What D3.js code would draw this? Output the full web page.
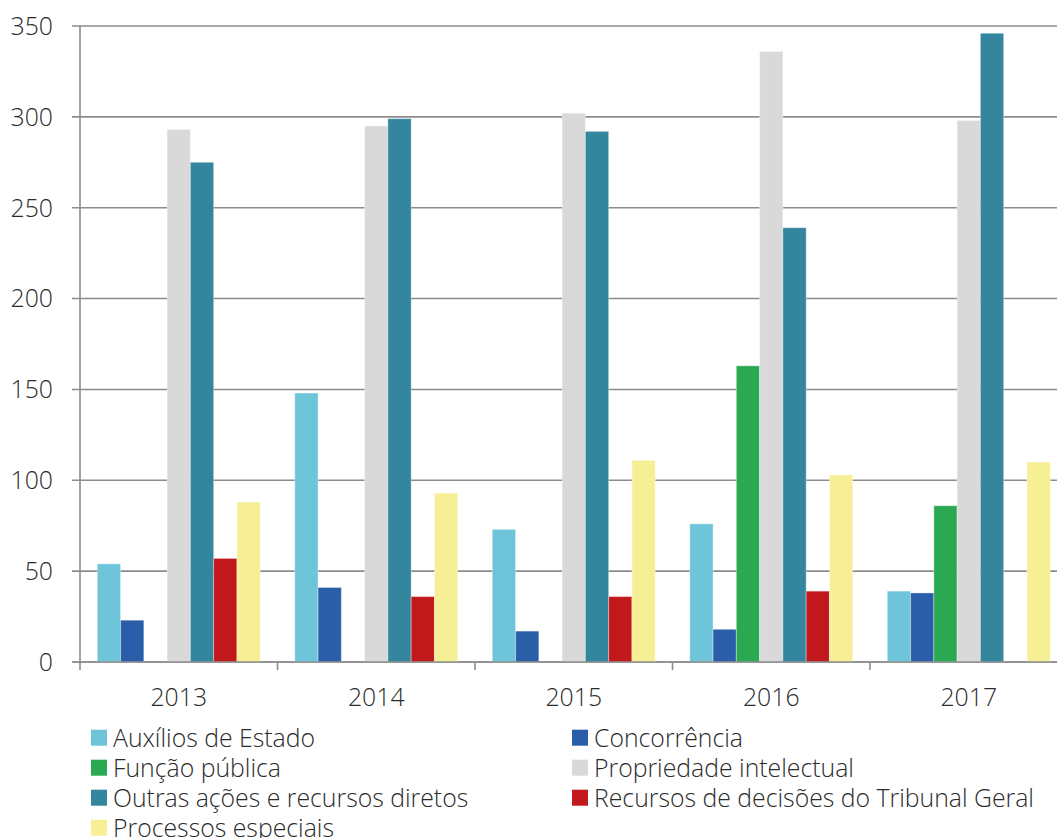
<!DOCTYPE html>
<html>
<head>
<meta charset="utf-8">
<script src="https://cdn.jsdelivr.net/npm/d3@7"></script>
<style>
  html, body { margin: 0; padding: 0; background: #fff; overflow: hidden; }
  text { font-family: "Open Sans", sans-serif; font-weight: 300; fill: #2b2b2b; }
</style>
</head>
<body>
<div class="chart"></div>
<script>
var years = ["2013", "2014", "2015", "2016", "2017"];
var seriesNames = [
  "Auxílios de Estado",
  "Concorrência",
  "Função pública",
  "Propriedade intelectual",
  "Outras ações e recursos diretos",
  "Recursos de decisões do Tribunal Geral",
  "Processos especiais"
];
var seriesColors = ["#6ec5d9", "#2b5ea8", "#2aa852", "#d9d9d9", "#33869e", "#c0181b", "#f7ef96"];

// one array per series, values per year 2013..2017
var auxilios    = [54, 148, 73, 76, 39];
var concorrencia = [23, 41, 17, 18, 38];
var funcaoPublica = [0, 0, 0, 163, 86];
var propriedade = [293, 295, 302, 336, 298];
var outras      = [275, 299, 292, 239, 346];
var recursos    = [57, 36, 36, 39, 0];
var especiais   = [88, 93, 111, 103, 110];

var yTicks = [0, 50, 100, 150, 200, 250, 300, 350];

var seriesValues = [auxilios, concorrencia, funcaoPublica, propriedade, outras, recursos, especiais];

var width = 1057, height = 838;
var margin = { left: 80, top: 26 };
var plotBottom = 662;
var step = 197.5;
var fontSize = "24.8px";

var svg = d3.select(".chart").append("svg")
  .attr("width", width)
  .attr("height", height);

var x0 = d3.scaleBand()
  .domain(years)
  .range([margin.left, margin.left + step * years.length])
  .paddingInner(0.175)
  .paddingOuter(0.0875);

var x1 = d3.scaleBand()
  .domain(d3.range(seriesNames.length))
  .range([0, x0.bandwidth()]);

var y = d3.scaleLinear()
  .domain([0, 350])
  .range([plotBottom, margin.top]);

// gridlines
svg.append("g")
  .selectAll("line")
  .data(yTicks)
  .enter()
  .append("line")
  .attr("x1", margin.left - 8)
  .attr("x2", width)
  .attr("y1", function (d) { return y(d); })
  .attr("y2", function (d) { return y(d); })
  .attr("stroke", "#8c8c8c")
  .attr("stroke-width", 1.6);

// y tick labels
svg.append("g")
  .selectAll("text")
  .data(yTicks)
  .enter()
  .append("text")
  .attr("x", 53)
  .attr("y", function (d) { return y(d); })
  .attr("dy", "0.36em")
  .attr("text-anchor", "end")
  .attr("font-size", fontSize)
  .text(function (d) { return d; });

// bars
var rows = [];
years.forEach(function (yr, i) {
  seriesValues.forEach(function (vals, s) {
    rows.push({ year: yr, s: s, value: vals[i] });
  });
});

svg.append("g")
  .selectAll("rect")
  .data(rows.filter(function (d) { return d.value > 0; }))
  .enter()
  .append("rect")
  .attr("x", function (d) { return x0(d.year) + x1(d.s); })
  .attr("width", x1.bandwidth())
  .attr("y", function (d) { return y(d.value); })
  .attr("height", function (d) { return y(0) - y(d.value); })
  .attr("fill", function (d) { return seriesColors[d.s]; })
  .attr("stroke", "rgba(255,255,255,0.35)")
  .attr("stroke-width", 1);

// axis lines
svg.append("line")
  .attr("x1", margin.left).attr("x2", margin.left)
  .attr("y1", margin.top).attr("y2", plotBottom + 8)
  .attr("stroke", "#8c8c8c").attr("stroke-width", 1.6);

svg.append("line")
  .attr("x1", margin.left - 8).attr("x2", width)
  .attr("y1", plotBottom).attr("y2", plotBottom)
  .attr("stroke", "#8c8c8c").attr("stroke-width", 1.6);

// category ticks at group boundaries
svg.append("g")
  .selectAll("line")
  .data(years.slice(1))
  .enter()
  .append("line")
  .attr("x1", function (d) { return x0(d) - x0.step() * x0.paddingOuter(); })
  .attr("x2", function (d) { return x0(d) - x0.step() * x0.paddingOuter(); })
  .attr("y1", plotBottom)
  .attr("y2", plotBottom + 8)
  .attr("stroke", "#8c8c8c").attr("stroke-width", 1.6);

// year labels
svg.append("g")
  .selectAll("text")
  .data(years)
  .enter()
  .append("text")
  .attr("x", function (d) { return x0(d) + x0.bandwidth() / 2; })
  .attr("y", 706)
  .attr("text-anchor", "middle")
  .attr("font-size", fontSize)
  .text(function (d) { return d; });

// legend, two columns
var legendCols = [91, 572];
var legend = svg.append("g")
  .selectAll("g")
  .data(seriesNames)
  .enter()
  .append("g")
  .attr("transform", function (d, i) {
    return "translate(" + legendCols[i % 2] + "," + (737.7 + Math.floor(i / 2) * 30) + ")";
  });

legend.append("rect")
  .attr("x", 0)
  .attr("y", -8)
  .attr("width", 16)
  .attr("height", 16)
  .attr("fill", function (d, i) { return seriesColors[i]; });

legend.append("text")
  .attr("x", 22)
  .attr("dy", "0.36em")
  .attr("font-size", fontSize)
  .text(function (d) { return d; });
</script>
</body>
</html>
